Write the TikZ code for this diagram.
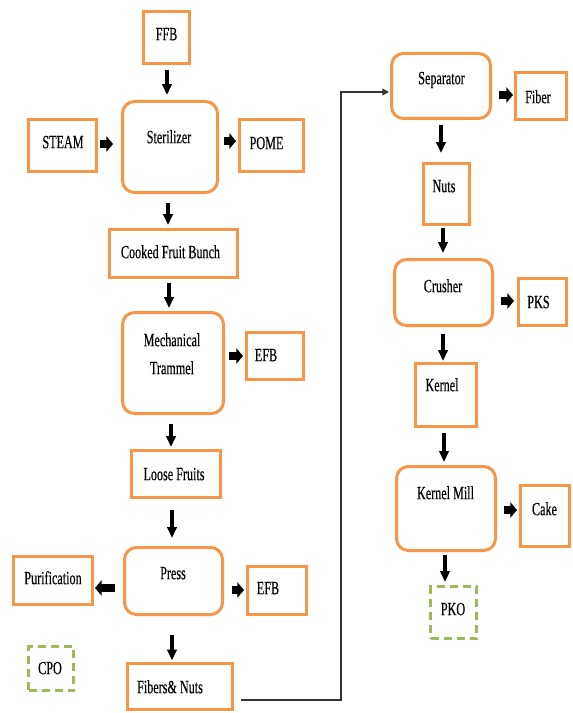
\documentclass[tikz,border=0pt]{standalone}
\usepackage{fontspec}
\setmainfont{Liberation Serif}[FakeStretch=0.65,FakeBold=0.3]
\usetikzlibrary{arrows.meta,calc}
\definecolor{boxorange}{HTML}{F79646}
\definecolor{boxgreen}{HTML}{9BBB59}
\begin{document}
\begin{tikzpicture}[x=0.75pt,y=-0.75pt,
  sz/.style 2 args={minimum width=#1*0.75pt, minimum height=#2*0.75pt},
  obox/.style={draw=boxorange, line width=2.25pt, inner sep=0pt, fill=white},
  rbox/.style={obox, rounded corners=9pt},
  gbox/.style={draw=boxgreen, line width=2.25pt, dash pattern=on 6pt off 3.75pt, inner sep=0pt},
  txt/.style={inner sep=0pt, text height=9.3pt, text depth=0pt, font=\fontsize{14pt}{16pt}\selectfont},
  varr/.style={line width=2.7pt, -{Triangle[width=7pt,length=8.2pt]}},
  harr/.style={line width=6.2pt, -{Triangle[width=11.5pt,length=5pt]}},
  conn/.style={line width=1.1pt, draw=black!80, -{Triangle[width=5pt,length=5pt]}}
]
\fill[white] (0,0) rectangle (572,713);
\useasboundingbox (0,0) rectangle (572,713);

% left column boxes
\node[obox, sz={46}{52}] (ffb) at (166.5,37.5) {};
\node[obox, sz={68}{52}] (steam) at (62.5,145.5) {};
\node[rbox, sz={95}{91}] (ster) at (170,147) {};
\node[obox, sz={64}{52}] (pome) at (271.5,145.5) {};
\node[obox, sz={128}{48}] (cfb) at (173.5,253.5) {};
\node[rbox, sz={101}{101}] (mech) at (173,363) {};
\node[obox, sz={57}{47}] (efba) at (275,356) {};
\node[obox, sz={89}{47}] (loose) at (176,474) {};
\node[rbox, sz={98}{67}] (press) at (173.5,581) {};
\node[obox, sz={79}{48}] (purif) at (53,580.5) {};
\node[obox, sz={59}{48}] (efbb) at (277,590.5) {};
\node[obox, sz={105}{46}] (fibers) at (180,686) {};
\node[gbox, sz={45}{44}] (cpo) at (51,668.5) {};

% right column boxes
\node[rbox, sz={99}{65}] (sep) at (441,86) {};
\node[obox, sz={51}{47}] (fiber) at (541,96) {};
\node[obox, sz={46}{61}] (nuts) at (446.5,194) {};
\node[rbox, sz={98}{66}] (crush) at (443.5,292.5) {};
\node[obox, sz={48}{47}] (pks) at (542.5,302) {};
\node[obox, sz={61}{63}] (kern) at (446,395) {};
\node[rbox, sz={99}{84}] (mill) at (446,508.5) {};
\node[obox, sz={49}{61}] (cake) at (545,516) {};
\node[gbox, sz={46}{52}] (pko) at (453.5,612.5) {};

% texts
\node[txt] (ffb-t) at (166.5,34) {FFB};
\node[txt] (steam-t) at (63,142) {STEAM};
\node[txt] (ster-t) at (169,137) {Sterilizer};
\node[txt] (pome-t) at (266.5,143) {POME};
\node[txt] (cfb-t) at (170.5,252) {Cooked Fruit Bunch};
\node[txt] (mech-t1) at (172,340) {Mechanical};
\node[txt] (mech-t2) at (172,368) {Trammel};
\node[txt] (efba-t) at (266,355) {EFB};
\node[txt] (loose-t) at (174,474) {Loose Fruits};
\node[txt] (press-t) at (173,573) {Press};
\node[txt] (purif-t) at (53,578) {Purification};
\node[txt] (efbb-t) at (268,588) {EFB};
\node[txt] (fibers-t) at (170,687) {Fibers\& Nuts};
\node[txt] (cpo-t) at (50,668) {CPO};
\node[txt] (sep-t) at (441.5,78) {Separator};
\node[txt] (fiber-t) at (538,97) {Fiber};
\node[txt] (nuts-t) at (444,186) {Nuts};
\node[txt] (crush-t) at (443,286) {Crusher};
\node[txt] (pks-t) at (538.5,302) {PKS};
\node[txt] (kern-t) at (442,385) {Kernel};
\node[txt] (mill-t) at (445.5,493) {Kernel Mill};
\node[txt] (cake-t) at (544.5,509) {Cake};
\node[txt] (pko-t) at (453,609) {PKO};

% vertical block arrows
\draw[varr] ($(ffb.south)+(0.5,5)$) -- ($(ffb.south |- ster.north)+(0.5,-5)$);
\draw[varr] ($(ster.south)+(-2,9)$) -- ($(ster.south |- cfb.north)+(-2,-3)$);
\draw[varr] ($(cfb.south)+(-4.5,4)$) -- ($(cfb.south |- mech.north)+(-4.5,-3)$);
\draw[varr] ($(mech.south)+(-2,9)$) -- ($(mech.south |- loose.north)+(-2,-2)$);
\draw[varr] ($(loose.south)+(-4,11)$) -- ($(loose.south |- press.north)+(-4,-8)$);
\draw[varr] ($(press.south)+(-1.5,19)$) -- ($(press.south |- fibers.north)+(-1.5,-1)$);
\draw[varr] ($(sep.south)+(0,5)$) -- ($(sep.south |- nuts.north)+(0,-9)$);
\draw[varr] ($(nuts.south)+(-3.5,2)$) -- ($(nuts.south |- crush.north)+(-3.5,-5)$);
\draw[varr] ($(crush.south)+(-0.5,7)$) -- ($(crush.south |- kern.north)+(-0.5,-1)$);
\draw[varr] ($(kern.south)+(-2,5)$) -- ($(kern.south |- mill.north)+(-2,-3)$);
\draw[varr] ($(mill.south)+(-1,3)$) -- ($(mill.south |- pko.north)+(-1,-3)$);

% horizontal block arrows
\draw[harr] ($(steam.east)+(2,-1.5)$) -- ($(steam.east -| ster.west)+(-8,-1.5)$);
\draw[harr] ($(ster.east)+(5,-6)$) -- ($(ster.east -| pome.west)+(-2,-6)$);
\draw[harr] ($(mech.east)+(4,-7)$) -- ($(mech.east -| efba.west)+(-2,-7)$);
\draw[harr] ($(press.west)+(-8,7)$) -- ($(press.west -| purif.east)+(1,7)$);
\draw[harr] ($(press.east)+(8,9)$) -- ($(press.east -| efbb.west)+(-2,9)$);
\draw[harr] ($(sep.east)+(7,9)$) -- ($(sep.east -| fiber.west)+(-1,9)$);
\draw[harr] ($(crush.east)+(7,8.5)$) -- ($(crush.east -| pks.west)+(-3,8.5)$);
\draw[harr] ($(mill.east)+(7,1.5)$) -- ($(mill.east -| cake.west)+(-2,1.5)$);

% connector from Fibers & Nuts to Separator
\coordinate (turn) at ($(sep.west)+(-49,6)$);
\draw[conn] ($(fibers.east)+(7,14)$) -| (turn) -- ($(sep.west)+(-1,6)$);
\end{tikzpicture}
\end{document}
